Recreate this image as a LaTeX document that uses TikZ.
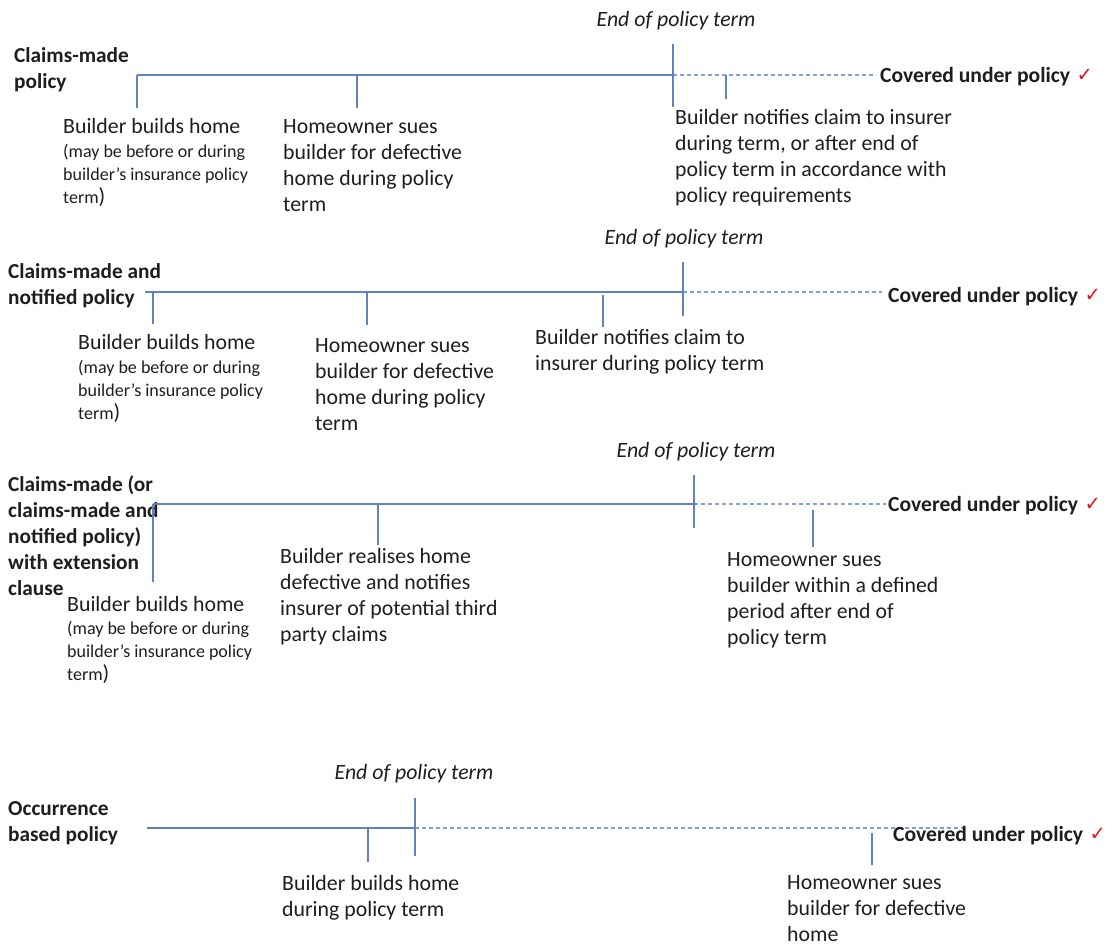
\documentclass[tikz,border=0pt]{standalone}
\usepackage{fontspec}
\setmainfont{Carlito}
\newfontfamily\symfont{DejaVu Sans}
\definecolor{tl}{RGB}{96,130,192}
\definecolor{tld}{RGB}{130,160,210}
\definecolor{txt}{RGB}{30,30,30}
\definecolor{chk}{RGB}{230,20,30}
\newcommand{\bigparen}{{\fontsize{21.8}{26}\selectfont)}}
\tikzset{
  line/.style={draw=tl, line width=1.3pt},
  tick/.style={draw=tl, line width=1.2pt},
  dline/.style={draw=tld, line width=1.1pt, dash pattern=on 4pt off 3pt},
  ttl/.style={anchor=base west, inner sep=0pt, align=left, text=txt, font=\fontsize{21.3}{25.8}\selectfont\bfseries},
  lbl/.style={anchor=base west, inner sep=0pt, align=left, text=txt, font=\fontsize{21.8}{26}\selectfont},
  sml/.style={anchor=base west, inner sep=0pt, align=left, text=txt, font=\fontsize{18}{23}\selectfont},
  endt/.style={anchor=base, inner sep=0pt, text=txt, font=\fontsize{21.8}{26}\selectfont\itshape},
  cov/.style={anchor=base west, inner sep=0pt, text=txt, font=\fontsize{21.6}{26}\selectfont\bfseries},
  chkm/.style={anchor=base west, inner sep=0pt, xshift=6pt, yshift=1pt, text=chk, font=\fontsize{19.5}{22}\selectfont\symfont},
}
\begin{document}
\begin{tikzpicture}[x=1pt,y=-1pt]
\useasboundingbox[fill=white] (0,0) rectangle (1113,945);

% ---------- Panel 1 ----------
\node[ttl] (t1) at (14,88) {Claims-made\\policy};
\coordinate (a1) at (137,75);
\coordinate (e1) at (673,75);
\coordinate (d1) at (876,75);
\draw[line] (a1) -- (e1);
\draw[dline] (e1) -- (d1);
\coordinate (k1a) at (137,108); \draw[tick] (a1) -- (k1a);
\coordinate (k1b0) at (357,75); \coordinate (k1b) at (357,108); \draw[tick] (k1b0) -- (k1b);
\coordinate (e1t) at (673,44); \coordinate (e1b) at (673,107); \draw[tick] (e1t) -- (e1b);
\coordinate (k1c0) at (726,75); \coordinate (k1c) at (726,99); \draw[tick] (k1c0) -- (k1c);
\node[endt] (end1) at (676,26) {End of policy term};
\node[cov] (c1) at (880,82) {Covered under policy};
\node[chkm] (m1) at (c1.base east) {✓};
\node[lbl] (l1a) at (63,133) {Builder builds home};
\node[sml] (s1a) at (63,203) {(may be before or during\\builder’s insurance policy\\term\bigparen};
\node[lbl] (l1b) at (283,211) {Homeowner sues\\builder for defective\\home during policy\\term};
\node[lbl] (l1c) at (675,202) {Builder notifies claim to insurer\\during term, or after end of\\policy term in accordance with\\policy requirements};

% ---------- Panel 2 ----------
\node[ttl] (t2) at (8,304.5) {Claims-made and\\notified policy};
\coordinate (a2) at (145,292);
\coordinate (e2) at (683,292);
\coordinate (d2) at (882,292);
\draw[line] (a2) -- (e2);
\draw[dline] (e2) -- (d2);
\coordinate (k2a0) at (153,292); \coordinate (k2a) at (153,324); \draw[tick] (k2a0) -- (k2a);
\coordinate (k2b0) at (367,292); \coordinate (k2b) at (367,325); \draw[tick] (k2b0) -- (k2b);
\coordinate (k2c0) at (603,295); \coordinate (k2c) at (603,327); \draw[tick] (k2c0) -- (k2c);
\coordinate (e2t) at (683,262); \coordinate (e2b) at (683,316); \draw[tick] (e2t) -- (e2b);
\node[endt] (end2) at (684,244) {End of policy term};
\node[cov] (c2) at (888,302) {Covered under policy};
\node[chkm] (m2) at (c2.base east) {✓};
\node[lbl] (l2a) at (78,349) {Builder builds home};
\node[sml] (s2a) at (78,419) {(may be before or during\\builder’s insurance policy\\term\bigparen};
\node[lbl] (l2b) at (315,430) {Homeowner sues\\builder for defective\\home during policy\\term};
\node[lbl] (l2c) at (535,370) {Builder notifies claim to\\insurer during policy term};

% ---------- Panel 3 ----------
\node[ttl] (t3) at (8,595) {Claims-made (or\\claims-made and\\notified policy)\\with extension\\clause};
\coordinate (a3) at (153,504);
\coordinate (e3) at (694,504);
\coordinate (d3) at (886,504);
\draw[line] (a3) -- (e3);
\draw[dline] (e3) -- (d3);
\coordinate (k3a) at (153,582); \draw[tick] (a3) -- (k3a);
\coordinate (k3b0) at (378,504); \coordinate (k3b) at (378,545); \draw[tick] (k3b0) -- (k3b);
\coordinate (e3t) at (694,475); \coordinate (e3b) at (694,528); \draw[tick] (e3t) -- (e3b);
\coordinate (k3c0) at (813,510); \coordinate (k3c) at (813,547); \draw[tick] (k3c0) -- (k3c);
\node[endt] (end3) at (696,457) {End of policy term};
\node[cov] (c3) at (888,511) {Covered under policy};
\node[chkm] (m3) at (c3.base east) {✓};
\node[lbl] (l3a) at (67,611) {Builder builds home};
\node[sml] (s3a) at (67,680) {(may be before or during\\builder’s insurance policy\\term\bigparen};
\node[lbl] (l3b) at (280,641) {Builder realises home\\defective and notifies\\insurer of potential third\\party claims};
\node[lbl] (l3c) at (727,644) {Homeowner sues\\builder within a defined\\period after end of\\policy term};

% ---------- Panel 4 ----------
\node[ttl] (t4) at (8,841) {Occurrence\\based policy};
\coordinate (a4) at (147,828);
\coordinate (e4) at (415,828);
\coordinate (d4) at (966,828);
\draw[line] (a4) -- (e4);
\draw[dline] (e4) -- (d4);
\coordinate (k4a0) at (368,828); \coordinate (k4a) at (368,862); \draw[tick] (k4a0) -- (k4a);
\coordinate (e4t) at (415,798); \coordinate (e4b) at (415,856); \draw[tick] (e4t) -- (e4b);
\coordinate (k4b0) at (872,833); \coordinate (k4b) at (872,865); \draw[tick] (k4b0) -- (k4b);
\node[endt] (end4) at (414,779) {End of policy term};
\node[cov] (c4) at (893,841) {Covered under policy};
\node[chkm] (m4) at (c4.base east) {✓};
\node[lbl] (l4a) at (282,916) {Builder builds home\\during policy term};
\node[lbl] (l4b) at (787,941) {Homeowner sues\\builder for defective\\home};
\end{tikzpicture}
\end{document}
